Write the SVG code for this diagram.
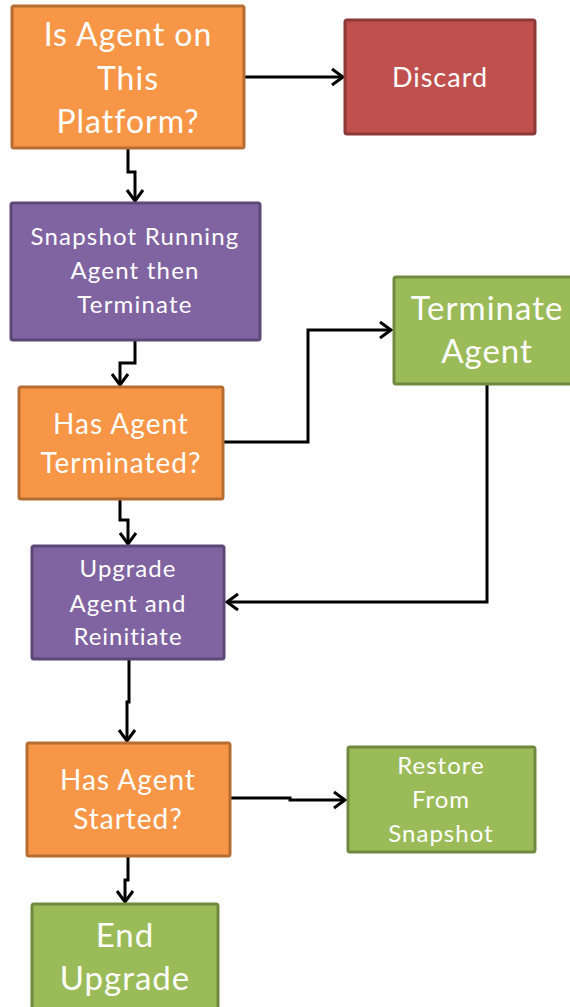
<svg xmlns="http://www.w3.org/2000/svg" width="570" height="1007" viewBox="0 0 570 1007">
<style>
.box{stroke-width:3}
.or{fill:#F79646;stroke:#B66D31}
.rd{fill:#C0504D;stroke:#8C3836}
.pu{fill:#8064A2;stroke:#5C4776}
.gr{fill:#9BBB59;stroke:#71893F}
text{font-family:Lato,"Open Sans","Liberation Sans",sans-serif;fill:#fff;text-anchor:middle;letter-spacing:1px}
.c{fill:none;stroke:#000;stroke-width:3;stroke-linejoin:miter;marker-end:url(#ah)}
</style>
<defs>
<marker id="ah" markerUnits="userSpaceOnUse" markerWidth="20" markerHeight="20" refX="13" refY="10" orient="auto" overflow="visible">
<path d="M2,2 L13,10 L2,18" fill="none" stroke="#000" stroke-width="3"/>
</marker>
</defs>
<g id="connectors">
<path class="c" d="M244,77 L343,77"/>
<path class="c" d="M128,148 L128,172 L135,172 L135,201"/>
<path class="c" d="M135,340 L135,363 L120,363 L120,385"/>
<path class="c" d="M223,442 L308,442 L308,330 L391,330"/>
<path class="c" d="M487,384 L487,602 L227,602"/>
<path class="c" d="M120,499 L120,520 L128,520 L128,544"/>
<path class="c" d="M129,659 L129,702 L127,702 L127,741"/>
<path class="c" d="M230,798 L290,798 L290,800 L345,800"/>
<path class="c" d="M128,856 L128,880 L125,880 L125,902"/>
</g>
<g id="n1">
<rect class="box or" x="12" y="6" width="232" height="142" rx="2"/>
<text font-size="32"><tspan x="128" y="46">Is Agent on</tspan><tspan x="128" y="90">This</tspan><tspan x="128" y="133">Platform?</tspan></text>
</g>
<g id="n2">
<rect class="box rd" x="345" y="20" width="190" height="114" rx="2"/>
<text font-size="27" x="440" y="87">Discard</text>
</g>
<g id="n3">
<rect class="box pu" x="11" y="203" width="249" height="137" rx="2"/>
<text font-size="24" style="letter-spacing:1.2px"><tspan x="135" y="245">Snapshot Running</tspan><tspan x="135" y="279">Agent then</tspan><tspan x="135" y="313">Terminate</tspan></text>
</g>
<g id="n4">
<rect class="box or" x="19" y="387" width="204" height="112" rx="2"/>
<text font-size="28"><tspan x="121" y="434">Has Agent</tspan><tspan x="121" y="473">Terminated?</tspan></text>
</g>
<g id="n5">
<rect class="box gr" x="394" y="277" width="186" height="107" rx="2"/>
<text font-size="33"><tspan x="487" y="320">Terminate</tspan><tspan x="487" y="363">Agent</tspan></text>
</g>
<g id="n6">
<rect class="box pu" x="32" y="546" width="192" height="113" rx="2"/>
<text font-size="24"><tspan x="128" y="577">Upgrade</tspan><tspan x="128" y="612">Agent and</tspan><tspan x="128" y="645">Reinitiate</tspan></text>
</g>
<g id="n7">
<rect class="box or" x="27" y="743" width="203" height="113" rx="2"/>
<text font-size="28"><tspan x="128" y="790">Has Agent</tspan><tspan x="128" y="829">Started?</tspan></text>
</g>
<g id="n8">
<rect class="box gr" x="348" y="747" width="187" height="105" rx="2"/>
<text font-size="24"><tspan x="441" y="774">Restore</tspan><tspan x="441" y="808">From</tspan><tspan x="441" y="842">Snapshot</tspan></text>
</g>
<g id="n9">
<rect class="box gr" x="32" y="904" width="186" height="110" rx="2"/>
<text font-size="33"><tspan x="125" y="947">End</tspan><tspan x="125" y="990">Upgrade</tspan></text>
</g>
</svg>
